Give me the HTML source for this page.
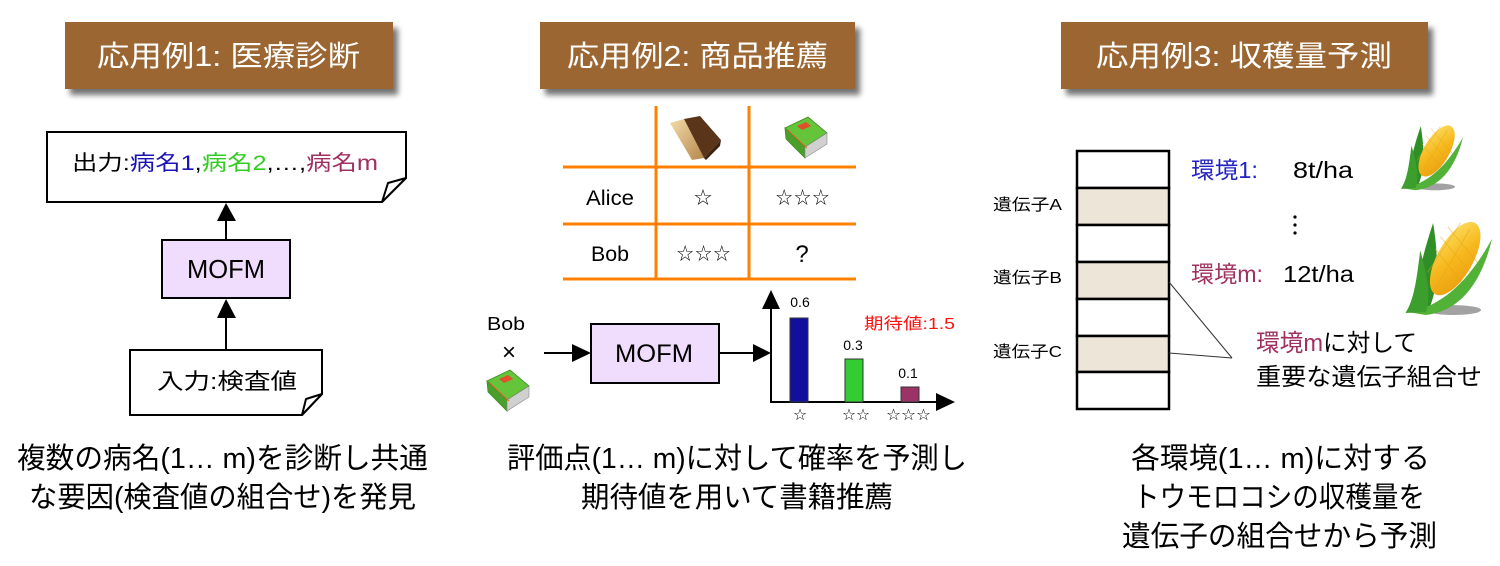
<!DOCTYPE html>
<html><head><meta charset="utf-8">
<style>
html,body{margin:0;padding:0;background:#fff;}
svg{display:block;}
text{font-family:"Liberation Sans","Noto Sans CJK JP",sans-serif;}
.sym{font-family:"DejaVu Sans","Liberation Sans",sans-serif;}
</style></head>
<body>
<svg width="1500" height="566" viewBox="0 0 1500 566" xmlns="http://www.w3.org/2000/svg">
<defs>
  <filter id="sh" x="-10%" y="-20%" width="130%" height="160%">
    <feGaussianBlur in="SourceAlpha" stdDeviation="3"/>
    <feOffset dx="5" dy="6" result="o"/>
    <feComponentTransfer><feFuncA type="linear" slope="0.55"/></feComponentTransfer>
    <feMerge><feMergeNode/><feMergeNode in="SourceGraphic"/></feMerge>
  </filter>
  <linearGradient id="cob" x1="0" y1="0" x2="1" y2="1">
    <stop offset="0" stop-color="#fde36a"/><stop offset="0.5" stop-color="#f6b81c"/><stop offset="1" stop-color="#e79a10"/>
  </linearGradient>
  <linearGradient id="tan" x1="0" y1="0" x2="1" y2="1">
    <stop offset="0" stop-color="#f3dcaa"/><stop offset="1" stop-color="#b5874a"/>
  </linearGradient>
  <g id="corn">
    <ellipse cx="58" cy="94" rx="30" ry="5" fill="#555" opacity="0.55"/>
    <path d="M14,94 C18,70 22,45 36,6 C42,40 42,70 32,92 Z" fill="#2f8f26"/>
    <ellipse cx="60" cy="42" rx="19" ry="42" transform="rotate(32 60 42)" fill="url(#cob)"/>
    <path d="M44,20 L80,60 M38,32 L72,72 M52,10 L86,48 M40,70 L76,12 M30,56 L66,6" stroke="#e8a020" stroke-width="1" opacity="0.5" fill="none"/>
    <path d="M8,96 C40,92 72,70 100,22 C88,70 62,96 28,99 Z" fill="#52b238"/>
    <path d="M6,97 C16,82 18,62 22,34 C30,60 34,82 28,96 Z" fill="#3c9e2c"/>
  </g>
  <g id="gbook">
    <polygon points="0,11 23,0 42,16 20,30" fill="#64c43a" stroke="#3d8c22" stroke-width="0.8"/>
    <polygon points="0,11 20,30 20,41 1,22" fill="#4a9e2a" stroke="#3d8c22" stroke-width="0.8"/>
    <polygon points="20,30 42,16 42,27 20,41" fill="#d0d0d0" stroke="#888" stroke-width="0.6"/>
    <polygon points="12,9 21,5 26,9 17,13" fill="#e0502a"/>
    <path d="M3,13 L22,31" stroke="#e07030" stroke-width="1.2"/>
  </g>
</defs>

<!-- Headers -->
<rect x="65" y="22" width="328" height="67" fill="#9b6633" filter="url(#sh)"/>
<rect x="540" y="22" width="315" height="67" fill="#9b6633" filter="url(#sh)"/>
<rect x="1061" y="22" width="367" height="67" fill="#9b6633" filter="url(#sh)"/>
<text x="97" y="66" font-size="29" fill="#fff" textLength="263" lengthAdjust="spacingAndGlyphs">応用例1: 医療診断</text>
<text x="567" y="66" font-size="29" fill="#fff" textLength="261" lengthAdjust="spacingAndGlyphs">応用例2: 商品推薦</text>
<text x="1096" y="66" font-size="29" fill="#fff" textLength="296" lengthAdjust="spacingAndGlyphs">応用例3: 収穫量予測</text>

<!-- Section 1 -->
<path d="M47,132 L406,132 L406,178 L382,202 L47,202 Z" fill="#fff" stroke="#000" stroke-width="2"/>
<path d="M406,178 L388,183 L382,202 Z" fill="#fff" stroke="#000" stroke-width="2" stroke-linejoin="round"/>
<text x="72" y="170" font-size="21" textLength="306" lengthAdjust="spacingAndGlyphs"><tspan fill="#000">出力:</tspan><tspan fill="#1a14b4">病名1</tspan><tspan fill="#000">,</tspan><tspan fill="#33cc22">病名2</tspan><tspan fill="#000">,…,</tspan><tspan fill="#a03060">病名m</tspan></text>

<line x1="226" y1="240" x2="226" y2="218" stroke="#000" stroke-width="2"/>
<polygon points="226,203 217,221 236,221" fill="#000"/>
<rect x="162" y="240" width="128" height="58" fill="#f0dcfc" stroke="#000" stroke-width="2"/>
<text x="187" y="278" font-size="26" textLength="78" lengthAdjust="spacingAndGlyphs">MOFM</text>
<line x1="226" y1="350" x2="226" y2="316" stroke="#000" stroke-width="2"/>
<polygon points="226,299 217,318 236,318" fill="#000"/>

<path d="M130,350 L322,350 L322,394 L302,415 L130,415 Z" fill="#fff" stroke="#000" stroke-width="2"/>
<path d="M322,394 L306,399 L302,415 Z" fill="#fff" stroke="#000" stroke-width="2" stroke-linejoin="round"/>
<text x="157" y="389" font-size="22" textLength="140" lengthAdjust="spacingAndGlyphs">入力:検査値</text>

<text x="17" y="468" font-size="29" textLength="411" lengthAdjust="spacingAndGlyphs">複数の病名(1… m)を診断し共通</text>
<text x="29" y="507" font-size="29" textLength="387" lengthAdjust="spacingAndGlyphs">な要因(検査値の組合せ)を発見</text>

<!-- Section 2 table -->
<g stroke="#ff8000" stroke-width="3">
  <line x1="656" y1="106" x2="656" y2="280"/>
  <line x1="749" y1="106" x2="749" y2="280"/>
  <line x1="563" y1="167" x2="856" y2="167"/>
  <line x1="563" y1="224" x2="856" y2="224"/>
  <line x1="563" y1="279" x2="856" y2="279"/>
</g>
<!-- brown book -->
<polygon points="670,123 684,119 704,158 692,160" fill="url(#tan)"/>
<polygon points="684,119 700,116 721,140 704,158" fill="#5a3519"/>
<polygon points="704,158 721,140 720,146 706,160" fill="#3e220e"/>
<use href="#gbook" x="785" y="117"/>

<text x="586" y="205" font-size="21" textLength="48" lengthAdjust="spacingAndGlyphs">Alice</text>
<text x="591" y="261" font-size="21" textLength="38" lengthAdjust="spacingAndGlyphs">Bob</text>
<text class="sym" x="703" y="205" font-size="22" text-anchor="middle">☆</text>
<text class="sym" x="775" y="205" font-size="22" textLength="55" lengthAdjust="spacingAndGlyphs">☆☆☆</text>
<text class="sym" x="676" y="261" font-size="22" textLength="55" lengthAdjust="spacingAndGlyphs">☆☆☆</text>
<text x="802" y="262" font-size="24" text-anchor="middle">?</text>

<!-- Bob x book -->
<text x="487" y="330" font-size="18" textLength="38" lengthAdjust="spacingAndGlyphs">Bob</text>
<text x="509" y="360" font-size="24" text-anchor="middle">×</text>
<use href="#gbook" x="487" y="370"/>

<line x1="544" y1="353" x2="574" y2="353" stroke="#000" stroke-width="2"/>
<polygon points="591,353 572,344 572,362" fill="#000"/>
<rect x="591" y="324" width="128" height="59" fill="#f0dcfc" stroke="#000" stroke-width="2"/>
<text x="615" y="362" font-size="25" textLength="78" lengthAdjust="spacingAndGlyphs">MOFM</text>
<line x1="719" y1="353" x2="755" y2="353" stroke="#000" stroke-width="2"/>
<polygon points="771,353 753,344 753,362" fill="#000"/>

<!-- chart -->
<line x1="771" y1="305" x2="771" y2="403" stroke="#000" stroke-width="2"/>
<polygon points="771,290 762,309 780,309" fill="#000"/>
<line x1="770" y1="402" x2="940" y2="402" stroke="#000" stroke-width="2"/>
<polygon points="955,402 936,393 936,411" fill="#000"/>
<rect x="790" y="318" width="18" height="84" fill="#10109c" stroke="#333" stroke-width="1"/>
<rect x="845" y="359" width="18" height="43" fill="#33cc33" stroke="#333" stroke-width="1"/>
<rect x="901" y="387" width="18" height="15" fill="#9c3366" stroke="#333" stroke-width="1"/>
<text x="800" y="307" font-size="14" text-anchor="middle">0.6</text>
<text x="853" y="350" font-size="14" text-anchor="middle">0.3</text>
<text x="908" y="378" font-size="14" text-anchor="middle">0.1</text>
<text x="864" y="329" font-size="16" fill="#ff1010" textLength="91" lengthAdjust="spacingAndGlyphs">期待値:1.5</text>
<text class="sym" x="800" y="420" font-size="16" text-anchor="middle">☆</text>
<text class="sym" x="842" y="420" font-size="16" textLength="28" lengthAdjust="spacingAndGlyphs">☆☆</text>
<text class="sym" x="886" y="420" font-size="16" textLength="45" lengthAdjust="spacingAndGlyphs">☆☆☆</text>

<text x="507" y="468" font-size="29" textLength="460" lengthAdjust="spacingAndGlyphs">評価点(1… m)に対して確率を予測し</text>
<text x="581" y="507" font-size="29" textLength="312" lengthAdjust="spacingAndGlyphs">期待値を用いて書籍推薦</text>

<!-- Section 3 -->
<g stroke="#000" stroke-width="2.5">
  <rect x="1077" y="151" width="92" height="37" fill="#fff"/>
  <rect x="1077" y="188" width="92" height="37" fill="#ede5d8"/>
  <rect x="1077" y="225" width="92" height="37" fill="#fff"/>
  <rect x="1077" y="262" width="92" height="37" fill="#ede5d8"/>
  <rect x="1077" y="299" width="92" height="37" fill="#fff"/>
  <rect x="1077" y="336" width="92" height="36" fill="#ede5d8"/>
  <rect x="1077" y="372" width="92" height="37" fill="#fff"/>
</g>
<text x="993" y="210" font-size="16" textLength="69" lengthAdjust="spacingAndGlyphs">遺伝子A</text>
<text x="993" y="283" font-size="16" textLength="69" lengthAdjust="spacingAndGlyphs">遺伝子B</text>
<text x="993" y="357" font-size="16" textLength="69" lengthAdjust="spacingAndGlyphs">遺伝子C</text>

<text x="1191" y="178" font-size="23" fill="#2222c0" textLength="67" lengthAdjust="spacingAndGlyphs">環境1:</text>
<text x="1293" y="178" font-size="23" textLength="60" lengthAdjust="spacingAndGlyphs">8t/ha</text>
<circle cx="1295" cy="217" r="1.6" fill="#000"/>
<circle cx="1295" cy="225" r="1.6" fill="#000"/>
<circle cx="1295" cy="233" r="1.6" fill="#000"/>
<text x="1191" y="282" font-size="23" fill="#a03060" textLength="72" lengthAdjust="spacingAndGlyphs">環境m:</text>
<text x="1283" y="282" font-size="23" textLength="71" lengthAdjust="spacingAndGlyphs">12t/ha</text>

<line x1="1169" y1="282" x2="1232" y2="358" stroke="#333" stroke-width="1"/>
<line x1="1169" y1="353" x2="1232" y2="358" stroke="#333" stroke-width="1"/>
<text x="1256" y="351" font-size="24" textLength="161" lengthAdjust="spacingAndGlyphs"><tspan fill="#a03060">環境m</tspan><tspan fill="#000">に対して</tspan></text>
<text x="1256" y="385" font-size="24" textLength="226" lengthAdjust="spacingAndGlyphs">重要な遺伝子組合せ</text>

<use href="#corn" transform="translate(1397,122) scale(0.66,0.69)"/>
<use href="#corn" transform="translate(1400,217) scale(0.92,0.99)"/>

<text x="1131" y="468" font-size="29" textLength="299" lengthAdjust="spacingAndGlyphs">各環境(1… m)に対する</text>
<text x="1133" y="507" font-size="29" textLength="292" lengthAdjust="spacingAndGlyphs">トウモロコシの収穫量を</text>
<text x="1122" y="546" font-size="29" textLength="315" lengthAdjust="spacingAndGlyphs">遺伝子の組合せから予測</text>
</svg>
</body></html>
